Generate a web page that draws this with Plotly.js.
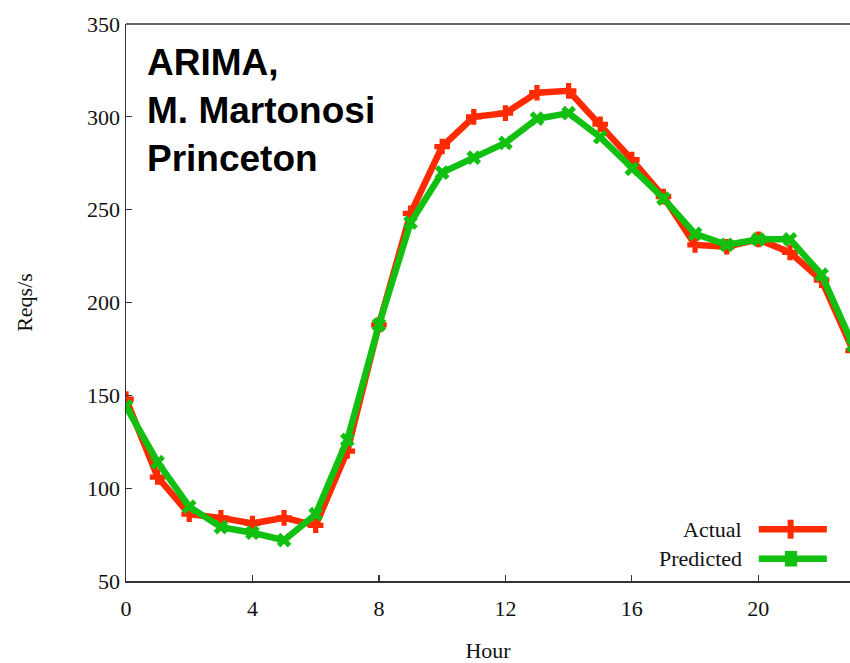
<!DOCTYPE html>
<html>
<head>
<meta charset="utf-8">
<script src="https://cdn.plot.ly/plotly-3.0.1.min.js"></script>
<style>html,body{margin:0;padding:0;background:#fff;}#chart{width:850px;height:663px;}</style>
</head>
<body>
<div id="chart"></div>
<script>
const hours = [0,1,2,3,4,5,6,7,8,9,10,11,12,13,14,15,16,17,18,19,20,21,22,23];
const actual = [148,106,86,84,81,84,80,120,188,248,284,300,302,313,314,296,277,257,231,230,234,227,212,174];
const predicted = [144,114,90,79,76,72,86,126,188,243,270,278,286,299,302,289,272,256,237,231,234,234,215,177];
const xTicks = [0,4,8,12,16,20];
const yTicks = [50,100,150,200,250,300,350];
const seriesNames = ['Actual','Predicted'];
const titleLines = ['ARIMA,','M. Martonosi','Princeton'];

const red = '#ff2a00';
const green = '#11c011';

const traces = [
  {x: hours, y: actual, name: seriesNames[0], mode: 'lines+markers', type: 'scatter',
   line: {color: red, width: 6.5}, marker: {symbol: 'cross', size: 13, color: red}, cliponaxis: true},
  {x: hours, y: predicted, name: seriesNames[1], mode: 'lines+markers', type: 'scatter',
   line: {color: green, width: 6.5}, marker: {symbol: 'x', size: 13, color: green}, cliponaxis: true}
];

const serif = 'Liberation Serif, Times New Roman, serif';
const layout = {
  width: 850, height: 663,
  margin: {l: 126, r: 0, t: 24, b: 82},
  paper_bgcolor: '#fff', plot_bgcolor: '#fff',
  showlegend: false,
  font: {family: serif, size: 21, color: '#111'},
  xaxis: {range: [0, 22.9], tickvals: xTicks, ticks: 'inside', ticklen: 6, tickwidth: 1.2, tickcolor: '#333',
    showline: true, linecolor: '#333', linewidth: 1.5, mirror: false, showgrid: false, zeroline: false,
    ticklabelstandoff: 7,
    tickfont: {family: serif, size: 22}, title: {text: 'Hour', font: {family: serif, size: 22}, standoff: 32}},
  yaxis: {range: [50, 350], tickvals: yTicks, ticks: 'inside', ticklen: 6, tickwidth: 1.2, tickcolor: '#333',
    showline: true, linecolor: '#333', linewidth: 1.5, showgrid: false, zeroline: false,
    tickfont: {family: serif, size: 22}, title: {text: 'Reqs/s', font: {family: serif, size: 22}, standoff: 48}},
  annotations: [
    {xref: 'paper', yref: 'paper', x: 0.026, y: 0.972, xanchor: 'left', yanchor: 'top', align: 'left',
     text: '<b>' + titleLines.join('<br>') + '</b>', showarrow: false,
     font: {family: 'Liberation Sans, Arial, sans-serif', size: 37, color: '#000'}},
    {xref: 'paper', yref: 'paper', x: 0.853, y: 0.093, xanchor: 'right', yanchor: 'middle',
     text: seriesNames[0], showarrow: false, font: {family: serif, size: 22, color: '#111'}},
    {xref: 'paper', yref: 'paper', x: 0.853, y: 0.040, xanchor: 'right', yanchor: 'middle',
     text: seriesNames[1], showarrow: false, font: {family: serif, size: 22, color: '#111'}}
  ],
  shapes: [
    {type: 'line', xref: 'paper', yref: 'paper', x0: 0, x1: 1, y0: 1, y1: 1, line: {color: '#333', width: 1.5}},
    {type: 'line', xref: 'paper', yref: 'paper', x0: 0.874, x1: 0.968, y0: 0.093, y1: 0.093, line: {color: red, width: 6.5}},
    {type: 'line', xref: 'paper', yref: 'paper', x0: 0.918, x1: 0.918, y0: 0.076, y1: 0.110, line: {color: red, width: 6}},
    {type: 'line', xref: 'paper', yref: 'paper', x0: 0.874, x1: 0.968, y0: 0.040, y1: 0.040, line: {color: green, width: 6.5}},
    {type: 'rect', xref: 'paper', yref: 'paper', x0: 0.910, x1: 0.927, y0: 0.026, y1: 0.054, line: {width: 0}, fillcolor: green}
  ]
};

Plotly.newPlot('chart', traces, layout, {staticPlot: true, displayModeBar: false});
</script>
</body>
</html>
